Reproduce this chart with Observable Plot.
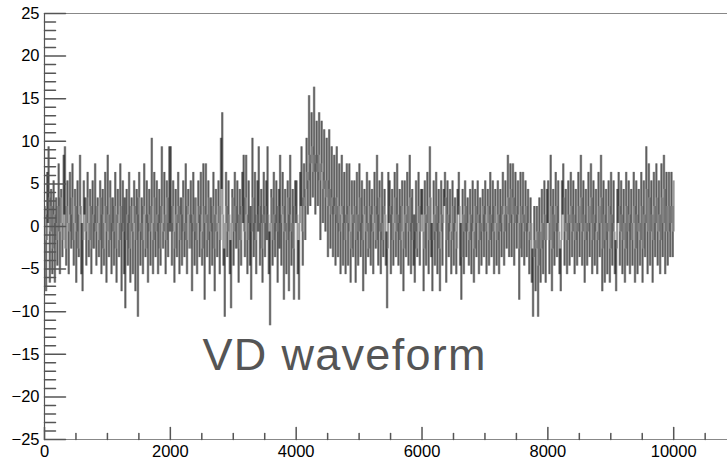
<!DOCTYPE html>
<html>
<head>
<meta charset="utf-8">
<script src="https://cdn.jsdelivr.net/npm/d3@7"></script>
<script src="https://cdn.jsdelivr.net/npm/@observablehq/plot@0.6"></script>
<style>
  html, body { margin: 0; padding: 0; background: #fff; }
  #chart svg { display: block; }
</style>
</head>
<body>
<div id="chart"></div>
<script>
// ---- data (ADC counts) ----
// "seg" arrays: samples every 20 ticks (0, 20, 40, ...) carrying the visible spikes;
// "mid" arrays: the samples in between (10, 30, 50, ...), which fill the dark core.
const sampleStep = 10;
const pedestalOffset = 0.35;

// samples 0 .. 1980
const seg0 = [2,-8,6,9,-7,4,-6,5,-7,3,-5,7,-6,4,-4,8,9,-5,5,-6,
  6,-3,7,-5,4,-7,5,-4,8,-6,-8,5,3,-5,6,-4,4,-6,5,-3,
  7,-5,3,-4,5,-6,4,-5,6,-7,8,-4,5,-6,3,-5,6,-7,4,-4,
  7,-8,5,-6,-10,4,-5,6,-7,3,-6,5,-8,4,-11,6,-5,3,-6,7,
  -4,5,-7,4,-5,10,-6,6,-4,5,-6,4,-5,9,-3,6,-6,5,-4,9];
const mid0 = [1,-2,0,3,-1,2,-3,1,0,-2,2,-1,3,0,-2,1,-3,2,0,-1,
  1,3,-2,0,2,-1,-3,1,2,0,-2,1,-1,3,0,-2,2,-3,1,0,
  -1,2,0,-2,3,1,-3,0,2,-1,1,-2,3,0,-1,2,-3,1,0,-2,
  2,0,-1,3,-2,1,0,-3,2,-1,0,2,-2,1,3,-1,0,-2,2,1,
  -3,0,1,-1,2,0,-2,3,-1,1,0,-3,2,0,-1,1,-2,3,0,-1];
// samples 2000 .. 3990
const seg1 = [9,-5,5,-7,4,-4,6,-6,3,-5,5,-4,7,-6,4,-3,5,-8,6,-5,
  3,-6,5,-4,6,-5,7,-9,7,-4,5,-6,3,-5,6,-8,4,-4,5,-6,
  10,13,-5,-11,6,-4,5,-6,-10,4,-5,6,-3,5,-7,4,-5,6,8,-4,
  8,-6,5,-5,-9,10,-4,6,-6,5,9,-5,4,-7,6,-4,5,9,-6,-12,
  4,-5,6,-4,5,-7,4,8,-5,6,-9,4,-6,5,-8,8,-5,4,-9,5];
const mid1 = [0,2,-1,-3,1,0,2,-2,1,3,-1,0,-2,2,1,-3,0,1,-1,3,
  -2,0,2,1,-1,-3,2,0,1,-2,3,-1,0,2,-3,1,-1,0,2,-2,
  4,1,-3,0,2,-1,1,-2,0,3,-1,2,0,-3,1,-2,2,0,-1,3,
  1,-2,0,2,-1,3,0,-2,1,-1,2,0,-3,1,0,2,-2,1,-1,0,
  3,-2,1,0,-1,2,-3,0,1,2,-1,0,-2,3,1,-1,0,-3,2,0];
// samples 4000 .. 5990 (pulse near 4300)
const seg2 = [5,-6,-9,6,9,-5,7,-2,10,1,15,2,13,3,16,1,12,2,13,-2,
  12,0,11,-1,10,-4,11,-3,9,-4,8,-5,9,-4,7,-6,8,-5,6,-6,
  7,-5,7,-7,5,-4,5,-7,6,-5,7,-4,5,-8,4,-6,6,-4,5,-5,
  4,-6,6,-3,8,-5,5,-6,6,-4,4,-5,-10,6,5,-6,4,-5,6,-4,
  7,-5,4,-6,5,-8,5,-4,6,-5,8,-6,4,-5,-7,5,-4,6,-5,4];
const mid2 = [1,-2,0,2,-1,3,2,4,6,5,8,7,9,6,8,7,6,8,5,7,
  6,4,5,3,5,2,4,1,3,2,1,3,0,2,-1,1,2,0,-2,1,
  0,2,-1,-3,1,0,2,-2,1,-1,3,0,-2,1,2,-1,0,-3,2,1,
  -1,0,2,-2,1,3,-1,0,-2,2,1,-1,-3,0,2,1,-2,0,3,-1,
  1,0,-2,2,-1,-3,1,0,2,-1,3,0,-2,1,-1,-3,0,2,-1,1];
// samples 6000 .. 7990
const seg3 = [4,-8,5,-5,6,-6,9,-4,-8,5,-5,6,-6,4,-8,5,-5,4,6,-7,
  5,-4,4,-6,5,-5,3,-6,4,6,-5,-9,4,-6,5,-4,3,-5,4,-6,
  5,-7,4,-4,5,-6,3,-5,4,-4,5,-6,4,-5,6,-4,5,-6,4,-5,
  5,-6,4,-4,6,-5,5,-3,8,-4,7,-4,7,-5,6,-3,5,-9,6,-4,
  6,-5,5,-4,4,-6,3,-7,-11,2,-8,2,-11,3,-7,4,-6,5,-7,4];
const mid3 = [-1,-3,1,0,2,-2,3,0,-2,1,-1,2,0,-3,-1,1,0,2,3,-2,
  1,0,-1,-2,2,0,-1,-3,1,2,0,-4,1,-1,2,0,-1,-2,1,0,
  -1,-3,2,0,1,-2,0,-1,2,1,-1,0,2,-2,1,0,-1,2,0,-2,
  1,-1,0,2,1,-1,2,1,3,0,4,1,3,0,2,1,0,-3,2,0,
  1,-1,2,0,-1,-2,0,-3,-4,-2,-3,-1,-5,-1,-3,0,-2,1,-2,0];
// samples 8000 .. 10000
const seg4 = [5,-6,8,-8,4,-5,6,-4,5,-6,-8,5,7,-5,4,-6,5,-5,6,-4,
  5,-6,4,-5,6,-4,8,-5,5,-7,4,-5,6,-4,7,-6,5,-5,4,-6,
  6,-4,8,-8,5,-7,4,-6,5,-7,6,-5,5,-6,-8,4,6,-5,5,-6,
  4,-7,6,-5,5,-6,4,-5,6,-7,5,-6,4,-5,6,-7,5,-4,9,-6,
  7,-5,5,-7,6,-4,7,-5,5,-6,7,-4,8,-6,6,-5,6,-4,6,-4,5];
const mid4 = [0,-2,2,-3,1,-1,2,0,-1,-3,-2,1,3,-1,0,-2,1,0,2,-1,
  1,-2,0,-1,2,0,3,-1,1,-2,0,-1,2,0,3,-2,1,0,-1,-2,
  2,0,3,-3,1,-2,0,-1,2,-3,1,0,-1,-2,-3,0,2,-1,1,-2,
  0,-3,2,-1,1,0,-2,0,2,-3,1,-1,0,-2,2,-3,1,0,4,-1,
  3,-1,1,-2,2,0,3,-1,1,-2,3,0,4,-1,2,-1,2,0,2,-1];

const yMajorTicks = [-25, -20, -15, -10, -5, 0, 5, 10, 15, 20, 25];
const yMinorTicks = d3.range(-25, 25.5, 1).filter(v => v % 5 !== 0);
const xMajorTicks = [0, 2000, 4000, 6000, 8000, 10000];
const xMinorTicks = d3.range(0, 10855, 500).filter(v => v % 2000 !== 0);
const xDomain = [0, 10855];
const yDomain = [-25, 25];

const annotationText = ["VD waveform"];
const annotationX = [2511];
const annotationY = [-15.2];

// ---- build ----
const evens = [seg0, seg1, seg2, seg3, seg4].flat();
const odds = [mid0, mid1, mid2, mid3, mid4].flat();
const values = [];
evens.forEach((v, i) => { values.push(v); if (i < odds.length) values.push(odds[i]); });
const adc = values.map(v => v + pedestalOffset);
// histogram-style drawing: each sample is joined to the previous one by a vertical stroke
const steps = adc.map((v, i) => ({t: i * sampleStep, from: i ? adc[i - 1] : v, to: v}));

const tickShape = {draw(ctx, l) { ctx.moveTo(0, 0); ctx.lineTo(0, -l); }};
const axisColor = "#555";
const minus = d => d < 0 ? "\u2212" + Math.abs(d) : String(d);

const chart = Plot.plot({
  width: 727,
  height: 460,
  marginLeft: 44,
  marginRight: 0,
  marginTop: 13,
  marginBottom: 21,
  x: {domain: xDomain},
  y: {domain: yDomain},
  style: {
    fontFamily: "'Liberation Sans', Arial, Helvetica, sans-serif",
    fontSize: "16.5px",
    color: "#000",
    background: "#fff"
  },
  marks: [
    Plot.ruleX(steps, {x: "t", y1: "from", y2: "to", stroke: "#000", strokeWidth: 1.9, strokeOpacity: 0.4}),
    Plot.ruleY([yDomain[1]], {stroke: "#888", strokeWidth: 1.2}),
    Plot.ruleY([yDomain[0]], {stroke: "#888", strokeWidth: 1.2}),
    Plot.ruleX([xDomain[0]], {stroke: axisColor, strokeWidth: 1.2}),
    Plot.vector(yMajorTicks, {y: d => d, frameAnchor: "left", length: 21, rotate: 90, anchor: "start", shape: tickShape, stroke: axisColor}),
    Plot.vector(yMinorTicks, {y: d => d, frameAnchor: "left", length: 11, rotate: 90, anchor: "start", shape: tickShape, stroke: axisColor}),
    Plot.vector(xMajorTicks, {x: d => d, frameAnchor: "bottom", length: 12, rotate: 0, anchor: "start", shape: tickShape, stroke: axisColor}),
    Plot.vector(xMinorTicks, {x: d => d, frameAnchor: "bottom", length: 6, rotate: 0, anchor: "start", shape: tickShape, stroke: axisColor}),
    Plot.axisY(yMajorTicks, {tickSize: 0, tickPadding: 5, tickFormat: minus, label: null, fontSize: 16.5}),
    Plot.axisX(xMajorTicks, {tickSize: 0, tickPadding: 6, tickFormat: d => String(d), label: null, fontSize: 16.5}),
    Plot.text(annotationText, {
      x: (d, i) => annotationX[i], y: (d, i) => annotationY[i], text: d => d,
      textAnchor: "start", lineAnchor: "middle", fontSize: 45, fill: "#555"
    })
  ]
});
chart.querySelectorAll("text").forEach(t => {
  if (t.textContent === "VD waveform") t.setAttribute("letter-spacing", "1.3");
});
document.getElementById("chart").append(chart);
</script>
</body>
</html>
